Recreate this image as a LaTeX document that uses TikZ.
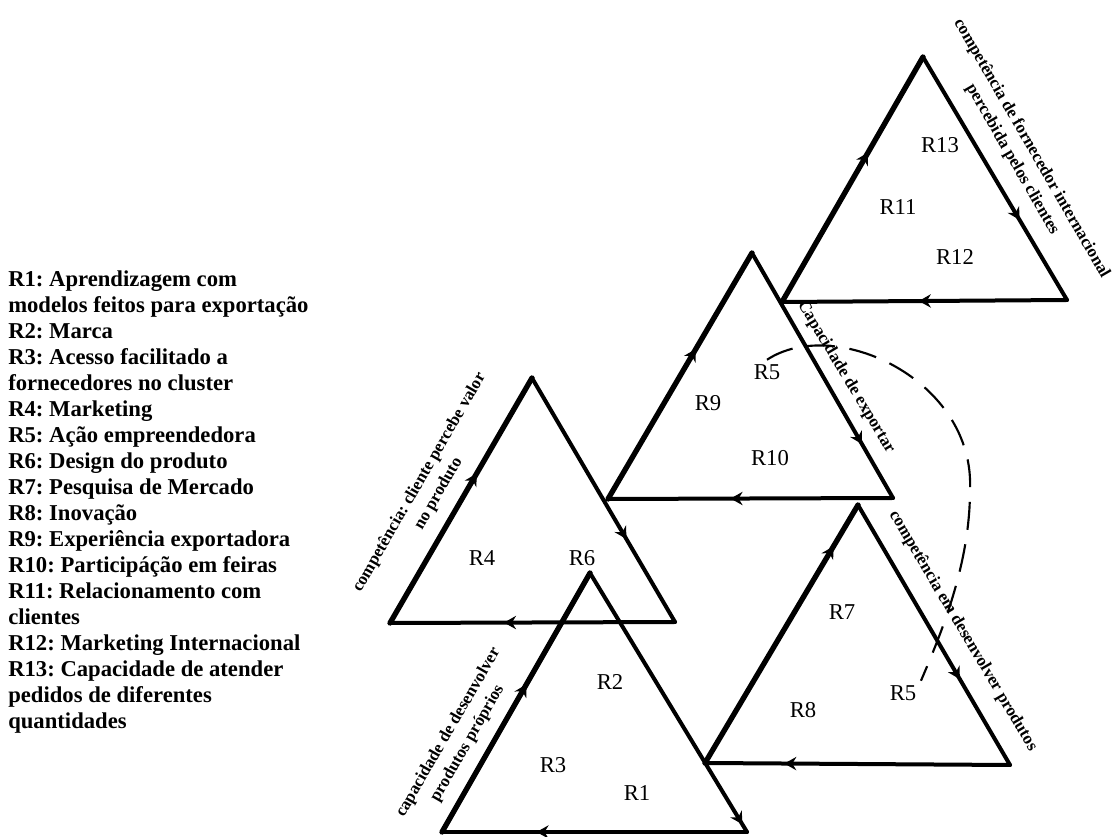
\documentclass[tikz,border=0pt]{standalone}
\usepackage{fontspec}
\setmainfont{Liberation Serif}
\frenchspacing
\usetikzlibrary{arrows.meta,decorations.markings}

\begin{document}
\begin{tikzpicture}[
    x=0.75pt, y=-0.75pt,
    side/.style={line width=3pt, line cap=round, postaction={decorate},
      decoration={markings, mark=at position #1 with {\arrow{Stealth[length=9pt,width=10pt,inset=3pt]}}}},
    upside/.style={side=#1, line width=4pt},
    res/.style={font=\fontsize{17}{20}\selectfont},
    comp/.style={font=\fontsize{12.75}{16.5}\selectfont\bfseries, align=center, inner sep=0pt},
    legend/.style={font=\fontsize{17}{19.5}\selectfont\bfseries, align=left, inner sep=0pt},
    link/.style={line width=1.6pt, dash pattern=on 21pt off 11pt}
]
    \useasboundingbox (0,0) rectangle (1115,837);

    \node[legend, anchor=north west] (keys) at (8,271) {R1: Aprendizagem com\\modelos feitos para exportação\\R2: Marca\\R3: Acesso facilitado a\\fornecedores no cluster\\R4: Marketing\\R5: Ação empreendedora\\R6: Design do produto\\R7: Pesquisa de Mercado\\R8: Inovação\\R9: Experiência exportadora\\R10: Participáção em feiras\\R11: Relacionamento com\\clientes\\R12: Marketing Internacional\\R13: Capacidade de atender\\pedidos de diferentes\\quantidades};

    \coordinate (dev-top) at (590,573);
    \coordinate (dev-left) at (442,832);
    \coordinate (dev-right) at (747,832);
    \coordinate (val-top) at (532,378);
    \coordinate (val-left) at (390,623);
    \coordinate (val-right) at (675,622);
    \coordinate (exp-top) at (752,253);
    \coordinate (exp-left) at (608,499);
    \coordinate (exp-right) at (893,498);
    \coordinate (prod-top) at (858,505);
    \coordinate (prod-left) at (705,763);
    \coordinate (prod-right) at (1010,765);
    \coordinate (intl-top) at (923,57);
    \coordinate (intl-left) at (782,302);
    \coordinate (intl-right) at (1067,300);

    \draw[upside=0.57] (dev-left) -- (dev-top);
    \draw[side=0.97] (dev-top) -- (dev-right);
    \draw[side=0.69] (dev-right) -- (dev-left);
    \draw[upside=0.61] (val-left) -- (val-top);
    \draw[side=0.66] (val-top) -- (val-right);
    \draw[side=0.6] (val-right) -- (val-left);
    \draw[upside=0.61] (exp-left) -- (exp-top);
    \draw[side=0.78] (exp-top) -- (exp-right);
    \draw[side=0.57] (exp-right) -- (exp-left);
    \draw[upside=0.84] (prod-left) -- (prod-top);
    \draw[side=0.67] (prod-top) -- (prod-right);
    \draw[side=0.74] (prod-right) -- (prod-left);
    \draw[upside=0.61] (intl-left) -- (intl-top);
    \draw[side=0.67] (intl-top) -- (intl-right);
    \draw[side=0.52] (intl-right) -- (intl-left);

    \node[res] (r1) at (637,793) {R1};
    \node[res] (r2) at (610,682) {R2};
    \node[res] (r3) at (553,765) {R3};
    \node[res] (r4) at (482,558) {R4};
    \node[res] (r6) at (582,558) {R6};
    \node[res] (r5a) at (767,372) {R5};
    \node[res] (r9) at (708,403) {R9};
    \node[res] (r10) at (770,458) {R10};
    \node[res] (r7) at (842,612) {R7};
    \node[res] (r8) at (803,710) {R8};
    \node[res] (r5b) at (903,693) {R5};
    \node[res] (r13) at (940,145) {R13};
    \node[res] (r11) at (898,207) {R11};
    \node[res] (r12) at (955,257) {R12};

    \node[comp, rotate=60] (valuecomp) at (429,488) {competência: cliente percebe valor\\no produto};
    \node[comp, rotate=60] (devcomp) at (458,738) {capacidade de desenvolver\\produtos próprios};
    \node[comp, rotate=-59] (expcomp) at (846,377) {Capacidade de exportar};
    \node[comp, rotate=-59.4] (prodcomp) at (963,631) {competência em desenvolver produtos};
    \node[comp, rotate=-60] (intlcomp) at (1022,154) {competência de fornecedor internacional\\percebida pelos clientes};

    \draw[link] (r5a.north) .. controls (835,315) and (975,380) .. (970,490)
        .. controls (970,560) and (945,625) .. (r5b.north east);
\end{tikzpicture}
\end{document}
